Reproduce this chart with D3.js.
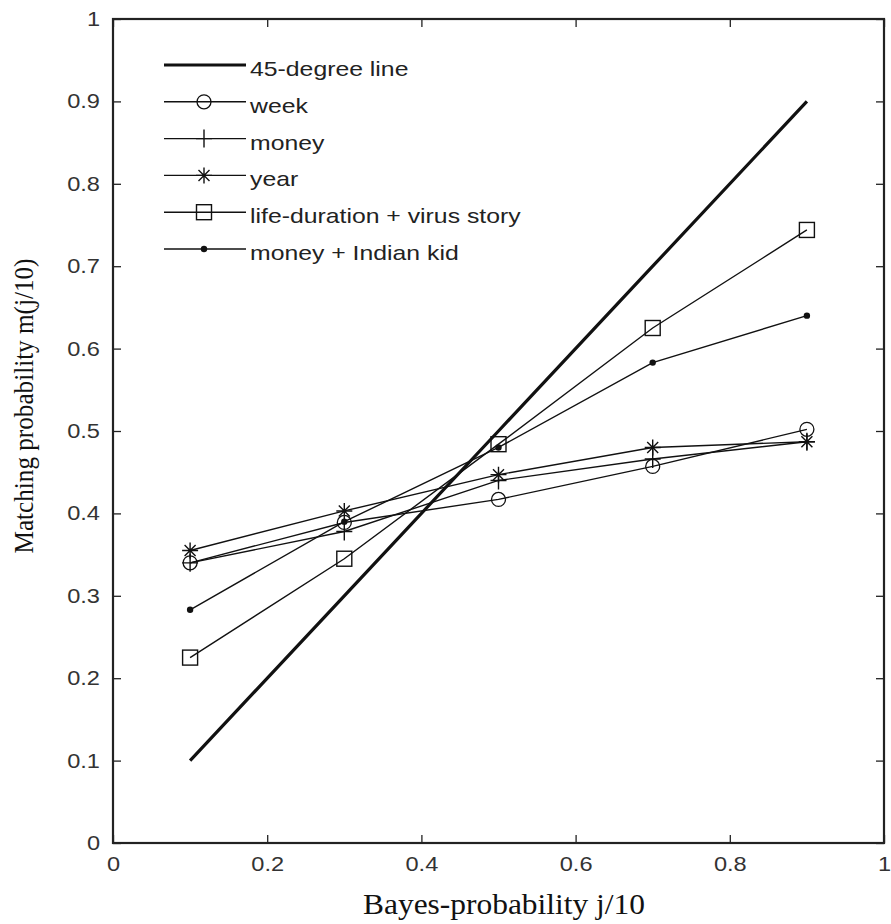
<!DOCTYPE html>
<html>
<head>
<meta charset="utf-8">
<script src="https://cdn.jsdelivr.net/npm/d3@7"></script>
<style>
  body { margin: 0; background: #fff; }
  .tick text { font-family: Arial, "Liberation Sans", sans-serif; font-size: 20px; fill: #333; }
  .lbl { font-family: "Liberation Serif", "Times New Roman", serif; fill: #111; }
  .leg { font-family: Arial, "Liberation Sans", sans-serif; font-size: 21px; fill: #222; }
</style>
</head>
<body>
<svg id="chart" width="891" height="924"></svg>
<script>
const bayes = [0.1, 0.3, 0.5, 0.7, 0.9];

const diagonal = [0.1, 0.3, 0.5, 0.7, 0.9];
const week = [0.340, 0.389, 0.417, 0.457, 0.502];
const money = [0.340, 0.378, 0.440, 0.466, 0.487];
const year = [0.355, 0.403, 0.447, 0.480, 0.487];
const lifeVirus = [0.225, 0.345, 0.484, 0.625, 0.744];
const moneyKid = [0.283, 0.390, 0.480, 0.583, 0.640];

const xTicks = [0, 0.2, 0.4, 0.6, 0.8, 1];
const yTicks = [0, 0.1, 0.2, 0.3, 0.4, 0.5, 0.6, 0.7, 0.8, 0.9, 1];

const series = [
  { name: '45-degree line', values: diagonal, marker: 'none', width: 3.2 },
  { name: 'week', values: week, marker: 'circle', width: 1.4 },
  { name: 'money', values: money, marker: 'plus', width: 1.4 },
  { name: 'year', values: year, marker: 'star', width: 1.4 },
  { name: 'life-duration + virus story', values: lifeVirus, marker: 'square', width: 1.4 },
  { name: 'money + Indian kid', values: moneyKid, marker: 'dot', width: 1.4 }
];

const svg = d3.select('#chart');
const plotLeft = 113, plotRight = 884, plotTop = 19, plotBottom = 843;

const x = d3.scaleLinear().domain([0, 1]).range([plotLeft, plotRight]);
const y = d3.scaleLinear().domain([0, 1]).range([plotBottom, plotTop]);

// the source picture is a bit wider than normal type, stretch text to suit
function widen(sel, factor) {
  sel.each(function() {
    let len = this.getComputedTextLength();
    d3.select(this)
      .attr('textLength', len * factor)
      .attr('lengthAdjust', 'spacingAndGlyphs');
  });
}

// inward ticks on all four sides, like a boxed matlab axes
svg.append('g')
  .attr('transform', 'translate(0,' + plotBottom + ')')
  .call(d3.axisBottom(x).tickValues(xTicks).tickFormat(d3.format('')).tickSizeInner(-8).tickSizeOuter(0).tickPadding(14));
svg.append('g')
  .attr('transform', 'translate(0,' + plotTop + ')')
  .call(d3.axisTop(x).tickValues(xTicks).tickFormat('').tickSizeInner(-8).tickSizeOuter(0));
svg.append('g')
  .attr('transform', 'translate(' + plotLeft + ',0)')
  .call(d3.axisLeft(y).tickValues(yTicks).tickFormat(d3.format('')).tickSizeInner(-8).tickSizeOuter(0).tickPadding(13));
svg.append('g')
  .attr('transform', 'translate(' + plotRight + ',0)')
  .call(d3.axisRight(y).tickValues(yTicks).tickFormat('').tickSizeInner(-8).tickSizeOuter(0));

svg.selectAll('.domain').remove();
svg.selectAll('.tick line').attr('stroke', '#222').attr('stroke-width', 1.3);
widen(svg.selectAll('.tick text'), 1.18);

svg.append('rect')
  .attr('x', plotLeft).attr('y', plotTop)
  .attr('width', plotRight - plotLeft).attr('height', plotBottom - plotTop)
  .attr('fill', 'none').attr('stroke', '#222').attr('stroke-width', 2.2);

const line = d3.line()
  .x(function(d, i) { return x(bayes[i]); })
  .y(function(d) { return y(d); });

function drawMarker(g, type, cx, cy) {
  if (type === 'circle') {
    g.append('circle').attr('cx', cx).attr('cy', cy).attr('r', 7)
      .attr('fill', 'none').attr('stroke', '#111').attr('stroke-width', 1.3);
  } else if (type === 'square') {
    g.append('rect').attr('x', cx - 7.5).attr('y', cy - 7.5).attr('width', 15).attr('height', 15)
      .attr('fill', 'none').attr('stroke', '#111').attr('stroke-width', 1.4);
  } else if (type === 'plus') {
    g.append('path').attr('d', 'M' + (cx - 8) + ',' + cy + 'H' + (cx + 8) + 'M' + cx + ',' + (cy - 9) + 'V' + (cy + 9))
      .attr('stroke', '#111').attr('stroke-width', 1.4);
  } else if (type === 'star') {
    let d = 'M' + (cx - 8) + ',' + cy + 'H' + (cx + 8) + 'M' + cx + ',' + (cy - 8) + 'V' + (cy + 8) +
      'M' + (cx - 5.5) + ',' + (cy - 5.5) + 'L' + (cx + 5.5) + ',' + (cy + 5.5) +
      'M' + (cx - 5.5) + ',' + (cy + 5.5) + 'L' + (cx + 5.5) + ',' + (cy - 5.5);
    g.append('path').attr('d', d).attr('stroke', '#111').attr('stroke-width', 1.4);
  } else if (type === 'dot') {
    g.append('circle').attr('cx', cx).attr('cy', cy).attr('r', 3.2).attr('fill', '#111');
  }
}

series.forEach(function(s) {
  let g = svg.append('g').attr('class', 'series');
  g.append('path')
    .attr('d', line(s.values))
    .attr('fill', 'none')
    .attr('stroke', '#111')
    .attr('stroke-width', s.width);
  s.values.forEach(function(v, i) {
    drawMarker(g, s.marker, x(bayes[i]), y(v));
  });
});

// legend, no frame
const legend = svg.append('g').attr('class', 'legend');
series.forEach(function(s, i) {
  let ly = 65 + i * 36.8;
  legend.append('line')
    .attr('x1', 164).attr('x2', 246).attr('y1', ly).attr('y2', ly)
    .attr('stroke', '#111').attr('stroke-width', s.width);
  drawMarker(legend, s.marker, 204, ly);
  legend.append('text').attr('class', 'leg')
    .attr('x', 250).attr('y', ly + 11)
    .text(s.name);
});
widen(legend.selectAll('text'), 1.18);

svg.append('text').attr('class', 'lbl')
  .attr('x', 504).attr('y', 914)
  .attr('text-anchor', 'middle')
  .style('font-size', '29px')
  .attr('textLength', 282)
  .attr('lengthAdjust', 'spacingAndGlyphs')
  .text('Bayes-probability j/10');

svg.append('text').attr('class', 'lbl')
  .attr('transform', 'translate(33,406) rotate(-90)')
  .attr('text-anchor', 'middle')
  .style('font-size', '28px')
  .attr('textLength', 295)
  .attr('lengthAdjust', 'spacingAndGlyphs')
  .text('Matching probability  m(j/10)');
</script>
</body>
</html>
